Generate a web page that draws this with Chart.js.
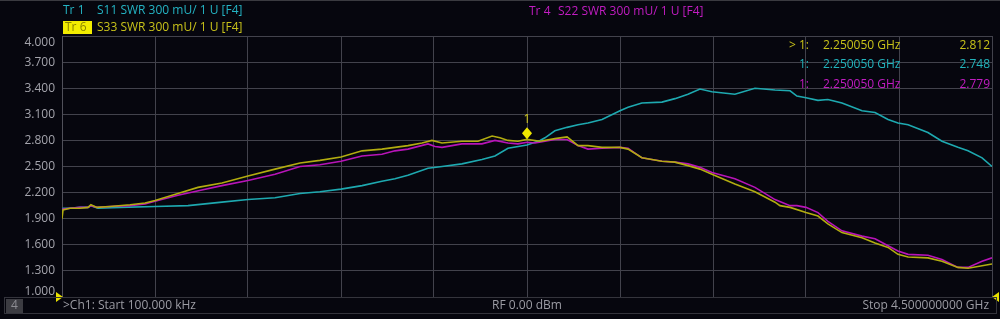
<!DOCTYPE html>
<html>
<head>
<meta charset="utf-8">
<script src="https://cdn.jsdelivr.net/npm/chart.js@4.4.1/dist/chart.umd.min.js"></script>
<style>
    html, body { margin: 0; padding: 0; background: #06060e; }
    canvas { display: block; }
</style>
</head>
<body>
<canvas id="myChart" width="1000" height="319"></canvas>
<script>
// axis setup (MHz / SWR)
const startMHz = 0.1;
const stopMHz = 4500;
const yTickValues = [4.0, 3.7, 3.4, 3.1, 2.8, 2.5, 2.2, 1.9, 1.6, 1.3, 1.0];

// S11 (Tr 1)
const s11Freq = [0.1, 5, 39, 87, 126, 140, 174, 281, 450, 610, 774, 900, 1031, 1152, 1248, 1350, 1452, 1548, 1611, 1674, 1771, 1839, 1935, 2032, 2095, 2158, 2250, 2313, 2337, 2385, 2444, 2497, 2545, 2613, 2700, 2739, 2806, 2903, 2966, 3029, 3087, 3145, 3256, 3353, 3450, 3523, 3556, 3600, 3658, 3706, 3774, 3871, 3934, 3997, 4045, 4094, 4190, 4258, 4335, 4384, 4452, 4500];
const s11Swr = [2.00, 2.02, 2.02, 2.03, 2.03, 2.05, 2.02, 2.03, 2.04, 2.05, 2.09, 2.12, 2.14, 2.19, 2.21, 2.24, 2.28, 2.33, 2.36, 2.40, 2.48, 2.50, 2.53, 2.58, 2.62, 2.71, 2.748, 2.80, 2.83, 2.91, 2.95, 2.98, 3.00, 3.04, 3.14, 3.18, 3.23, 3.24, 3.28, 3.33, 3.39, 3.36, 3.33, 3.40, 3.38, 3.37, 3.31, 3.29, 3.26, 3.27, 3.23, 3.14, 3.12, 3.04, 3.00, 2.98, 2.89, 2.79, 2.72, 2.68, 2.60, 2.50];

// S22 (Tr 4)
const s22Freq = [0.1, 5, 39, 87, 126, 140, 169, 232, 329, 402, 450, 561, 677, 774, 900, 1031, 1152, 1248, 1350, 1452, 1548, 1611, 1674, 1771, 1805, 1839, 1935, 2032, 2095, 2158, 2206, 2250, 2289, 2337, 2385, 2444, 2497, 2545, 2613, 2700, 2739, 2806, 2903, 2966, 3029, 3087, 3145, 3256, 3353, 3450, 3523, 3556, 3600, 3658, 3706, 3774, 3871, 3934, 3997, 4045, 4094, 4190, 4258, 4335, 4384, 4452, 4500];
const s22Swr = [2.00, 2.01, 2.02, 2.03, 2.03, 2.05, 2.03, 2.04, 2.05, 2.07, 2.10, 2.17, 2.23, 2.28, 2.34, 2.41, 2.50, 2.52, 2.56, 2.62, 2.64, 2.68, 2.70, 2.76, 2.73, 2.72, 2.76, 2.76, 2.80, 2.77, 2.76, 2.779, 2.77, 2.79, 2.81, 2.81, 2.74, 2.70, 2.71, 2.72, 2.71, 2.60, 2.56, 2.55, 2.53, 2.49, 2.43, 2.36, 2.26, 2.12, 2.05, 2.05, 2.03, 1.97, 1.87, 1.76, 1.70, 1.67, 1.59, 1.53, 1.49, 1.48, 1.43, 1.34, 1.34, 1.41, 1.45];

// S33 (Tr 6)
const s33Freq = [0.1, 5, 39, 87, 126, 140, 169, 232, 329, 402, 450, 561, 658, 774, 900, 1031, 1152, 1248, 1350, 1452, 1548, 1611, 1674, 1742, 1790, 1839, 1935, 2013, 2081, 2119, 2158, 2206, 2250, 2313, 2385, 2444, 2497, 2545, 2613, 2700, 2739, 2806, 2903, 2966, 3029, 3087, 3145, 3256, 3353, 3450, 3474, 3523, 3600, 3658, 3706, 3774, 3871, 3934, 3997, 4045, 4094, 4190, 4258, 4335, 4384, 4452, 4500];
const s33Swr = [1.90, 2.00, 2.02, 2.02, 2.03, 2.06, 2.03, 2.04, 2.06, 2.08, 2.11, 2.19, 2.26, 2.31, 2.39, 2.47, 2.54, 2.57, 2.61, 2.68, 2.70, 2.72, 2.74, 2.77, 2.80, 2.77, 2.79, 2.79, 2.85, 2.83, 2.80, 2.79, 2.812, 2.79, 2.82, 2.84, 2.74, 2.74, 2.72, 2.72, 2.70, 2.60, 2.56, 2.55, 2.51, 2.47, 2.41, 2.30, 2.21, 2.09, 2.05, 2.03, 1.97, 1.93, 1.84, 1.74, 1.68, 1.62, 1.57, 1.49, 1.46, 1.45, 1.41, 1.34, 1.33, 1.36, 1.38];

// marker 1
const markerFreq = 2250.05;
const markerRows = [
    { prefix: '> 1:', freq: '2.250050 GHz', value: '2.812', color: '#c8c21a' },
    { prefix: '1:', freq: '2.250050 GHz', value: '2.748', color: '#22b4bc' },
    { prefix: '1:', freq: '2.250050 GHz', value: '2.779', color: '#c21cc2' }
];

const COL_CYAN = '#1ea9b0';
const COL_MAG = '#b814b8';
const COL_YEL = '#b2ac10';
const FONT = '"Open Sans", "Noto Sans", sans-serif';

function toPoints(freqs, vals) {
    return freqs.map((f, i) => ({ x: f, y: vals[i] }));
}

const overlay = {
    id: 'overlay',
    beforeDraw(chart) {
        const ctx = chart.ctx;
        ctx.save();
        ctx.fillStyle = '#06060e';
        ctx.fillRect(0, 0, chart.width, chart.height);
        // top strip line
        ctx.fillStyle = '#3a3a40';
        ctx.fillRect(0, 0, chart.width, 1);
        ctx.restore();
    },
    afterDraw(chart) {
        const ctx = chart.ctx;
        const area = chart.chartArea;
        const xs = chart.scales.x;
        const ys = chart.scales.y;
        ctx.save();
        ctx.textBaseline = 'middle';

        // y labels
        ctx.font = '12px ' + FONT;
        ctx.fillStyle = '#a4a4ac';
        ctx.textAlign = 'right';
        yTickValues.forEach(v => {
            let py = ys.getPixelForValue(v);
            py = Math.min(Math.max(py, area.top + 7), area.bottom - 5);
            ctx.fillText(v.toFixed(3), area.left - 7, py);
        });

        // header
        ctx.textAlign = 'left';
        ctx.fillStyle = '#24b4c4';
        ctx.fillText('Tr 1', 63, 11);
        ctx.fillText('S11 SWR 300 mU/ 1 U [F4]', 97, 11);
        ctx.fillStyle = '#f2ec00';
        ctx.fillRect(63, 21, 29, 13);
        ctx.fillStyle = '#8a8400';
        ctx.fillText('Tr 6', 65, 27.5);
        ctx.fillStyle = '#c8c21a';
        ctx.fillText('S33 SWR 300 mU/ 1 U [F4]', 97, 27.5);
        ctx.fillStyle = '#c21cc2';
        ctx.fillText('Tr 4', 529, 12);
        ctx.fillText('S22 SWR 300 mU/ 1 U [F4]', 558, 12);

        // marker table
        markerRows.forEach((r, i) => {
            const py = 45.5 + i * 19.5;
            ctx.fillStyle = r.color;
            ctx.textAlign = 'right';
            ctx.fillText(r.prefix, 809, py);
            ctx.textAlign = 'left';
            ctx.fillText(r.freq, 823, py);
            ctx.textAlign = 'right';
            ctx.fillText(r.value, 990, py);
        });

        // marker diamond on S33
        const mx = xs.getPixelForValue(markerFreq);
        const my = ys.getPixelForValue(2.812);
        ctx.fillStyle = '#f0e800';
        ctx.beginPath();
        ctx.moveTo(mx, my);
        ctx.lineTo(mx - 5, my - 6);
        ctx.lineTo(mx, my - 12);
        ctx.lineTo(mx + 5, my - 6);
        ctx.closePath();
        ctx.fill();
        ctx.fillStyle = '#d8d020';
        ctx.textAlign = 'center';
        ctx.fillText('1', mx, my - 20);

        // stimulus triangles
        ctx.fillStyle = '#e8e000';
        ctx.beginPath();
        ctx.moveTo(area.left - 6, area.bottom - 5);
        ctx.lineTo(area.left + 1, area.bottom);
        ctx.lineTo(area.left - 6, area.bottom + 5);
        ctx.closePath();
        ctx.fill();
        ctx.beginPath();
        ctx.moveTo(area.right + 7, area.bottom - 5);
        ctx.lineTo(area.right, area.bottom);
        ctx.lineTo(area.right + 7, area.bottom + 5);
        ctx.closePath();
        ctx.fill();

        // status bar
        ctx.strokeStyle = '#34343c';
        ctx.lineWidth = 1;
        ctx.strokeRect(4.5, area.bottom + 0.5, 992, 16);
        ctx.fillStyle = '#3c3c42';
        ctx.fillRect(6, 299, 17, 14);
        ctx.fillStyle = '#8c8c92';
        ctx.textAlign = 'center';
        ctx.fillText('4', 14.5, 306);
        ctx.fillStyle = '#9c9ca4';
        ctx.textAlign = 'left';
        ctx.fillText('>Ch1: Start 100.000 kHz', 63, 306);
        ctx.textAlign = 'center';
        ctx.fillText('RF 0.00 dBm', (area.left + area.right) / 2, 306);
        ctx.textAlign = 'right';
        ctx.fillText('Stop 4.500000000 GHz', 989, 306);
        ctx.restore();
    }
};

const gridColor = '#42424c';

const chart = new Chart(document.getElementById('myChart').getContext('2d'), {
    type: 'line',
    data: {
        datasets: [
            { label: 'S11', data: toPoints(s11Freq, s11Swr), borderColor: COL_CYAN, order: 3 },
            { label: 'S22', data: toPoints(s22Freq, s22Swr), borderColor: COL_MAG, order: 2 },
            { label: 'S33', data: toPoints(s33Freq, s33Swr), borderColor: COL_YEL, order: 1 }
        ]
    },
    options: {
        responsive: false,
        animation: false,
        devicePixelRatio: 1,
        elements: {
            line: { borderWidth: 1.6, tension: 0 },
            point: { radius: 0 }
        },
        layout: { padding: { left: 62, top: 36, right: 8, bottom: 22 } },
        plugins: { legend: { display: false }, tooltip: { enabled: false } },
        scales: {
            x: {
                type: 'linear',
                min: startMHz,
                max: stopMHz,
                afterBuildTicks: scale => {
                    const ticks = [];
                    for (let i = 0; i <= 10; i++) ticks.push({ value: startMHz + i * (stopMHz - startMHz) / 10 });
                    scale.ticks = ticks;
                },
                ticks: { display: false },
                grid: { color: gridColor, drawTicks: false },
                border: { color: '#50505a' }
            },
            y: {
                min: 1,
                max: 4,
                afterBuildTicks: scale => {
                    scale.ticks = yTickValues.map(v => ({ value: v }));
                },
                ticks: { display: false },
                grid: { color: gridColor, drawTicks: false },
                border: { color: '#50505a' }
            }
        }
    },
    plugins: [overlay]
});
</script>
</body>
</html>
